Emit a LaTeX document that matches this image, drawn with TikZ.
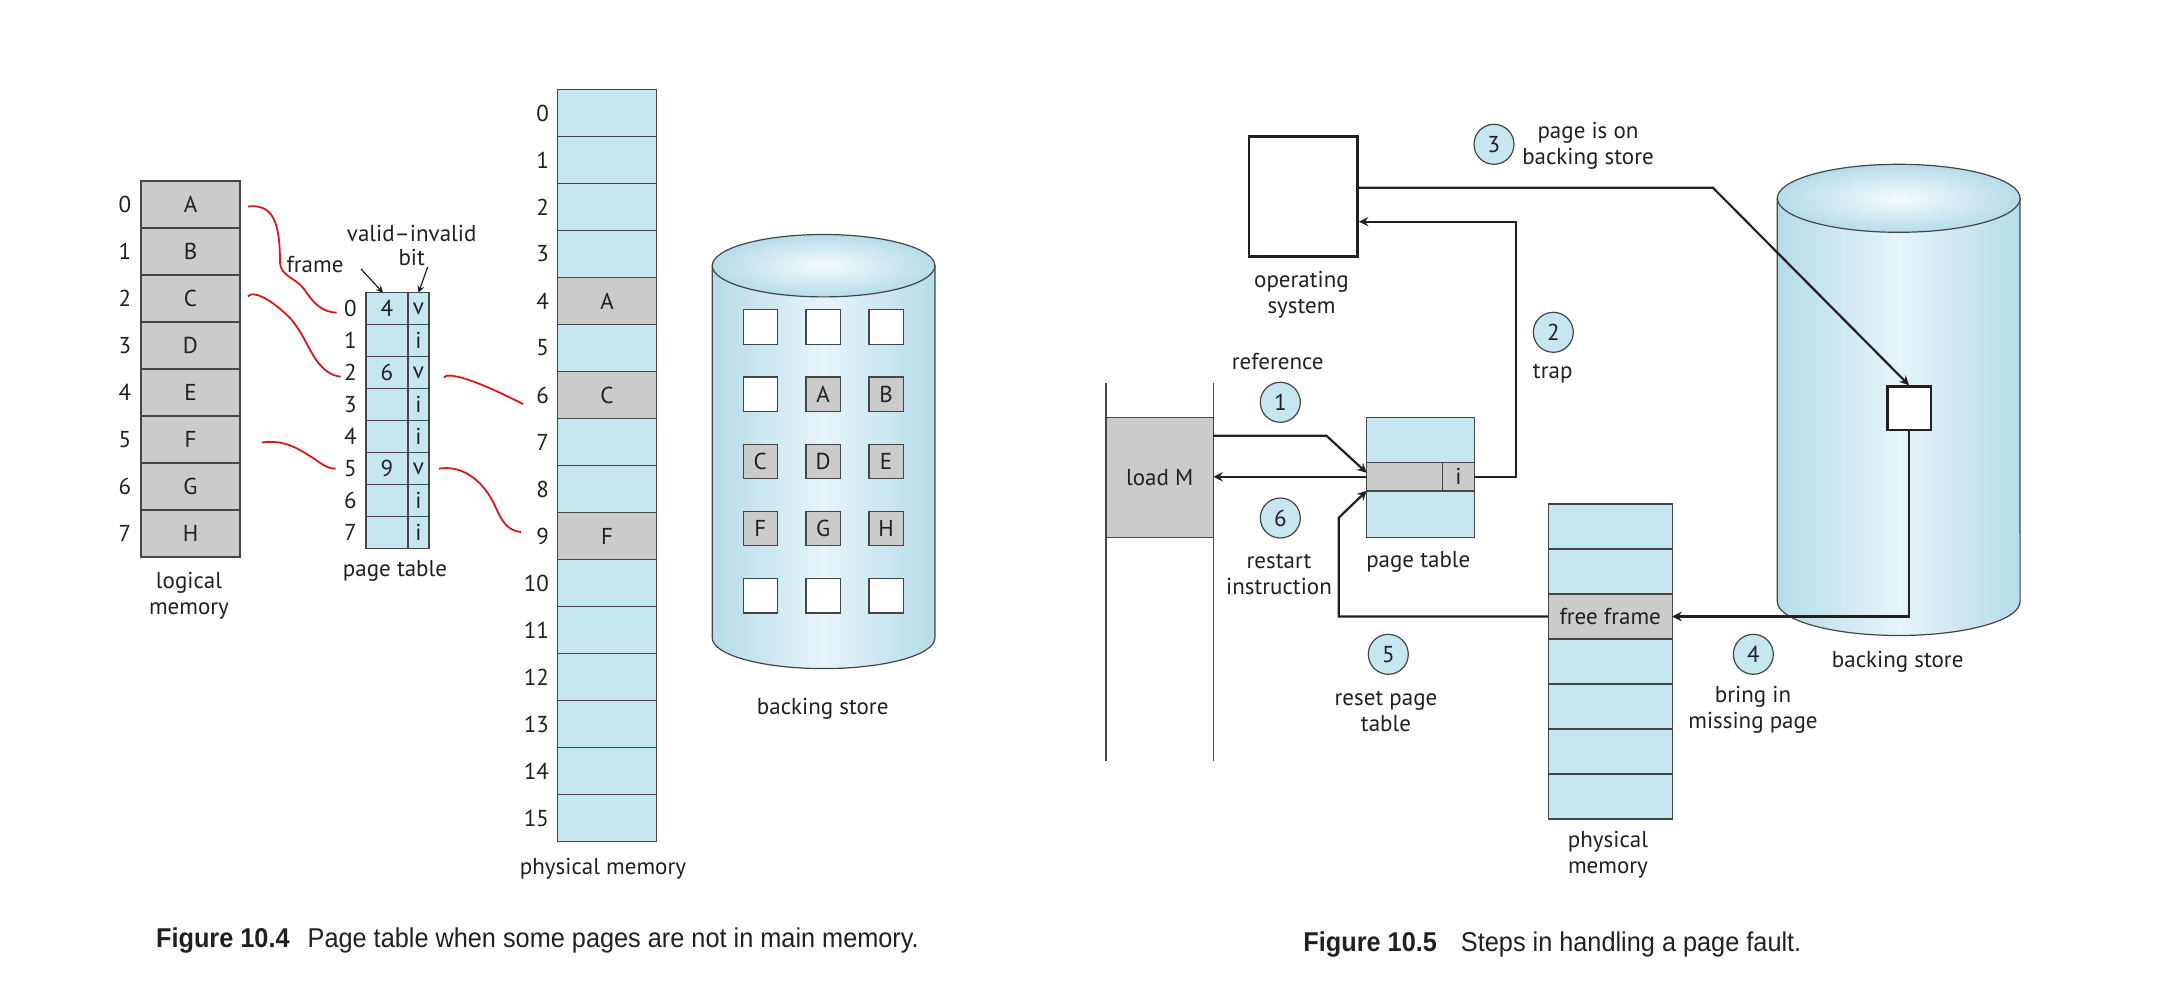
\documentclass[tikz,border=0pt]{standalone}
\usepackage{fontspec}
\setmainfont{PT Sans}
\newfontfamily\capfont{Liberation Sans}[FakeStretch=0.93]
\usetikzlibrary{positioning, calc}
\definecolor{cellblue}{HTML}{C6E6F0}
\definecolor{cellgray}{HTML}{CBCBCB}
\definecolor{edgegray}{HTML}{454545}
\definecolor{cylblue}{HTML}{B5DCE9}
\definecolor{cylpale}{HTML}{E6F4F9}
\definecolor{inkred}{HTML}{D7191C}
\definecolor{ink}{HTML}{231F20}
\tikzset{
    every node/.style = {font=\fontsize{11.5}{13}\selectfont, text=ink},
    cell/.style = {draw=edgegray, line width=0.6pt, inner sep=0pt, outer sep=0pt, fill=cellblue},
    lcell/.style = {cell, fill=cellgray, minimum width=49.5pt, minimum height=23.5pt},
    fcell/.style = {cell, minimum width=21pt, minimum height=16pt},
    bcell/.style = {cell, minimum width=10.5pt, minimum height=16pt},
    pcell/.style = {cell, minimum width=49.7pt, minimum height=23.5pt},
    slot/.style = {cell, minimum size=17.2pt},
    idx/.style = {inner sep=0pt},
    stepcircle/.style = {circle, draw=edgegray, fill=cellblue, line width=0.6pt, minimum size=20pt, inner sep=0pt},
    flow/.style = {draw=ink, line width=1.1pt, -stealth},
    pointer/.style = {draw=ink, line width=0.6pt, -stealth},
    redcurve/.style = {draw=inkred, line width=0.9pt},
    stackline/.style = {draw=edgegray, line width=0.6pt},
    cylinder/.style = {draw=edgegray, line width=0.6pt, left color=cylblue, right color=cylblue, middle color=cylpale},
    cylcap/.style = {draw=edgegray, line width=0.6pt, inner color=cylpale!40!white, outer color=cylblue},
    caption/.style = {anchor=west, inner sep=0pt, font=\capfont\fontsize{13.6}{15}\selectfont}
}

\begin{document}
\begin{tikzpicture}[x=0.5pt, y=0.5pt]
        \useasboundingbox (0,0) rectangle (2160,-1000);
        % ---------- Figure 10.4 ----------
        % logical memory
        \foreach \lbl [count=\i from 0] in {A,B,C,D,E,F,G,H}{
            \node[lcell] (lm\i) at (190.5, {-204.5-47*\i}) {\lbl};
            \node[idx, left=4.75pt of lm\i] (lmn\i) {\i};
        }
        \node[align=center] (lmlabel) at (189,-596) {logical\\memory};
        % page table with frame and valid-invalid bit
        \foreach \i/\frm/\bit in {0/4/v, 1//i, 2/6/v, 3//i, 4//i, 5/9/v, 6//i, 7//i}{
            \node[fcell] (pf\i) at (387, {-308.7-32*\i}) {\frm};
            \node[bcell, right=0pt of pf\i] (pv\i) {\bit};
            \node[idx, left=4.5pt of pf\i] (ptn\i) {\i};
        }
        \node (ptlabel) at (395,-571) {page table};
        \node (lblframe) at (315,-265) {frame};
        \node (lblvalid) at (411.7,-233) {valid–invalid};
        \node (lblbit) at (411.7,-257) {bit};
        \draw[pointer] ($(lblframe)+(46,-4)$) -- ($(pf0.north)+(-4,0)$);
        \draw[pointer] ($(lblbit)+(16,-10)$) -- (pv0.north);
        % physical memory
        \foreach \i in {0,...,15}{
            \node[pcell] (pm\i) at (607, {-113-47*\i}) {};
            \node[idx, left=4pt of pm\i] (pmn\i) {\i};
        }
        \foreach \i/\lbl in {4/A, 6/C, 9/F}
            \node[pcell, fill=cellgray] (pm\lbl) at (pm\i) {\lbl};
        \node (pmlabel) at (603,-869) {physical memory};
        % backing store
        \shadedraw[cylinder] (712.3,-265.7) -- (712.3,-638) arc[start angle=180, end angle=360, x radius=55.65pt, y radius=15.3pt] -- (935,-265.7) -- cycle;
        \shadedraw[cylcap] (823.6,-265.7) ellipse[x radius=55.65pt, y radius=15.6pt];
        \foreach \lbl/\clr [count=\k from 0] in {/white, /white, /white, /white, A/cellgray, B/cellgray, C/cellgray, D/cellgray, E/cellgray, F/cellgray, G/cellgray, H/cellgray, /white, /white, /white}{
            \pgfmathtruncatemacro{\col}{mod(\k,3)}
            \pgfmathtruncatemacro{\row}{\k/3}
            \node[slot, fill=\clr] (slot\k) at ({760.3+62.9*\col}, {-327-67.2*\row}) {\lbl};
        }
        \node (bslabel) at (822.7,-709) {backing store};
        % red mappings
        \draw[redcurve] ($(lm0.east)+(8,-2)$) .. controls (272,-204) and (280,-220) .. (280,-262)
            .. controls (280,-276) and (296,-278) .. (304,-289)
            .. controls (314,-304) and (322,-312) .. ($(ptn0.west)+(-7,-4)$);
        \draw[redcurve] ($(lm2.east)+(8,2)$) .. controls (252,-290) and (270,-298) .. (290,-318)
            .. controls (305,-335) and (310,-355) .. (322,-367)
            .. controls (330,-375) and (336,-376) .. ($(ptn2.west)+(-3,-4)$);
        \draw[redcurve] ($(lm5.east)+(22,-3)$) .. controls (285,-439) and (300,-450) .. (313,-458)
            .. controls (324,-466) and (330,-469) .. ($(ptn5.west)+(-8,0)$);
        \draw[redcurve] ($(pv2.east)+(15,-5)$) .. controls (446,-372) and (470,-377) .. ($(pmn6.west)+(-13,-9)$);
        \draw[redcurve] ($(pv5.east)+(10,0)$) .. controls (460,-465) and (480,-478) .. (492,-500)
            .. controls (500,-515) and (503,-530) .. ($(pmn9.west)+(-15,4)$);
        % caption
        \node[caption] (cap4) at (155.7,-941) {\textbf{Figure 10.4}\hspace{9pt}Page table when some pages are not in main memory.};

        % ---------- Figure 10.5 ----------
        % backing store cylinder
        \shadedraw[cylinder] (1777.3,-198.3) -- (1777.3,-601.5) arc[start angle=180, end angle=360, x radius=60.7pt, y radius=17pt] -- (2020,-198.3) -- cycle;
        \shadedraw[cylcap] (1898.7,-198.3) ellipse[x radius=60.7pt, y radius=17pt];
        \node[draw=ink, line width=1.3pt, fill=white, minimum size=21.8pt, inner sep=0pt] (page) at (1909,-408.3) {};
        \node (bslabel2) at (1897.7,-662) {backing store};
        % operating system
        \node[draw=ink, line width=1.3pt, minimum width=54.3pt, minimum height=60pt, inner sep=0pt] (os) at (1303.3,-196.7) {};
        \node[align=center] (oslabel) at (1301.5,-295) {operating\\system};
        % load M with its program lines
        \node[cell, fill=cellgray, minimum width=53.7pt, minimum height=59.8pt] (loadm) at (1159.7,-477.5) {load M};
        \draw[stackline] ($(loadm.north west)+(0,35)$) -- ($(loadm.south west)+(0,-224)$);
        \draw[stackline] ($(loadm.north east)+(0,35)$) -- ($(loadm.south east)+(0,-224)$);
        % page table
        \node[cell, minimum width=53.8pt, minimum height=22.5pt] (pttop) at (1420.5,-440.2) {};
        \node[cell, fill=cellgray, minimum width=38pt, minimum height=14pt] (ptrow) at (1404.7,-476.8) {};
        \node[cell, fill=cellgray, minimum width=15.8pt, minimum height=14pt, right=0pt of ptrow] (pti) {i};
        \node[cell, minimum width=53.8pt, minimum height=23pt] (ptbot) at (1420.5,-514.2) {};
        \node (ptlabel2) at (1418.3,-562) {page table};
        % physical memory
        \foreach \i/\clr/\lbl in {0/cellblue/, 1/cellblue/, 2/cellgray/free frame, 3/cellblue/, 4/cellblue/, 5/cellblue/, 6/cellblue/}
            \node[cell, fill=\clr, minimum width=62pt, minimum height=22.5pt] (frm\i) at (1610.2, {-526.5-45*\i}) {\lbl};
        \node[align=center] (frmlabel) at (1608,-855) {physical\\memory};
        % steps
        \node[stepcircle] (s1) at (1280.3,-402.3) {1};
        \node (s1text) at (1277.7,-362) {reference};
        \node[stepcircle] (s2) at (1553.3,-332.3) {2};
        \node (s2text) at (1552.7,-374) {trap};
        \node[stepcircle] (s3) at (1494,-144.3) {3};
        \node[align=center] (s3text) at (1588,-146) {page is on\\backing store};
        \node[stepcircle] (s4) at (1753.3,-654.3) {4};
        \node[align=center] (s4text) at (1753,-710) {bring in\\missing page};
        \node[stepcircle] (s5) at (1388.3,-654.3) {5};
        \node[align=center] (s5text) at (1386,-711) {reset page\\table};
        \node[stepcircle] (s6) at (1280.3,-518) {6};
        \node[align=center] (s6text) at (1279,-574) {restart\\instruction};
        % arrows
        \draw[flow] ($(loadm.north east)+(0,-18)$) -- ++(113,0) -- ($(ptrow.west)+(0,4)$);
        \draw[flow] (pti.east) -- ++(42,0) |- ($(os.east)+(0,-25)$);
        \draw[flow] ($(os.east)+(0,9)$) -- ++(354,0) -- (page.north);
        \draw[flow] (page.south) |- (frm2.east);
        \draw[flow] (frm2.west) -| ($(ptrow.south west)+(-28,-27)$) -- (ptrow.south west);
        \draw[flow] (ptrow.west) -- (ptrow.west -| loadm.east);
        % caption
        \node[caption] (cap5) at (1303,-945) {\textbf{Figure 10.5}\hspace{12pt}Steps in handling a page fault.};
\end{tikzpicture}
\end{document}
